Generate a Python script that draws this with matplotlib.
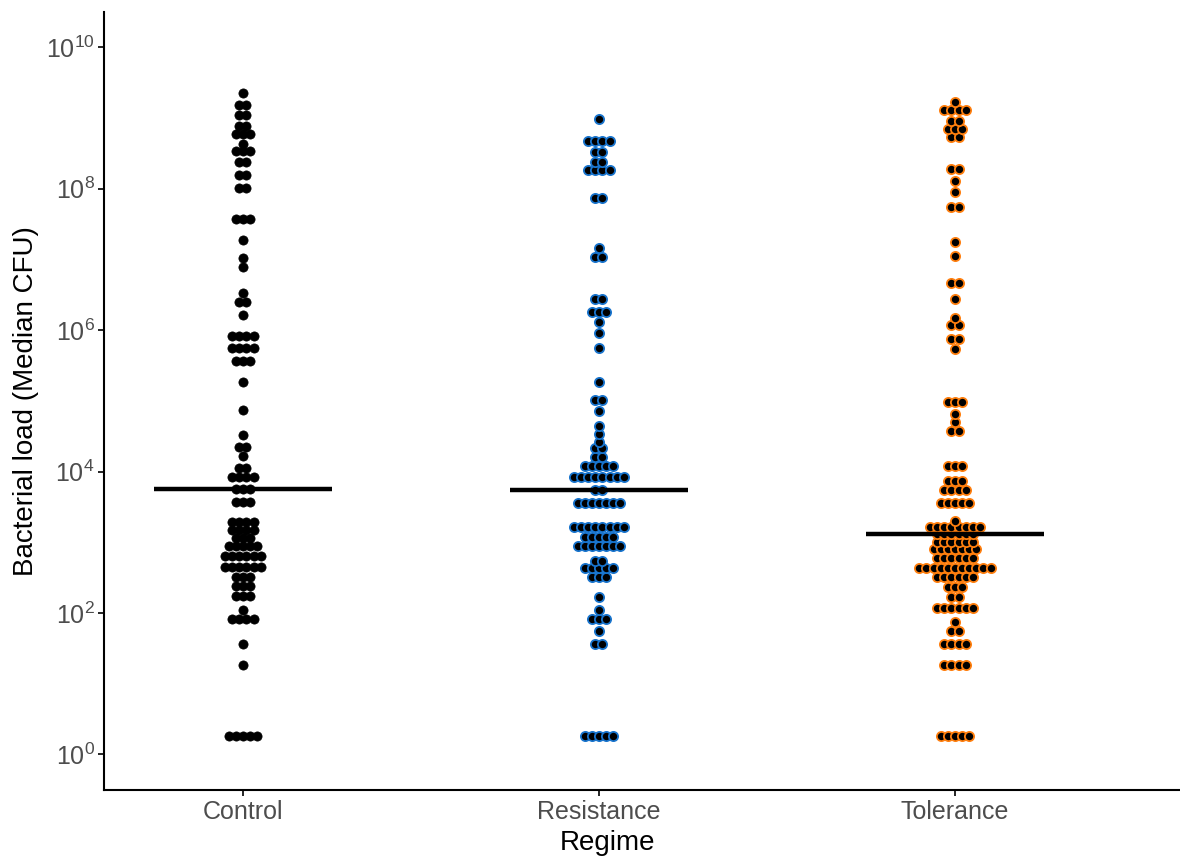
import numpy as np
import matplotlib.pyplot as plt

plt.rcParams['font.family'] = ['Liberation Sans', 'DejaVu Sans']

regimes = ["Control", "Resistance", "Tolerance"]

# log10 bin centres and number of dots stacked in each bin
control_log = [9.36, 9.18, 9.05, 8.89, 8.78, 8.63, 8.54, 8.38, 8.19, 8.01,
               7.57, 7.27, 7.02, 6.90, 6.53, 6.40, 6.22,
               5.92, 5.75, 5.57, 5.27, 4.87, 4.52, 4.35, 4.22, 4.05, 3.92,
               3.75, 3.57, 3.28, 3.17, 3.06, 2.94, 2.80, 2.65,
               2.51, 2.38, 2.24, 2.04, 1.91, 1.56, 1.26, 0.26]
control_n = [1, 2, 2, 2, 3, 1, 3, 2, 2, 2,
             3, 1, 1, 1, 1, 2, 1,
             4, 4, 3, 1, 1, 1, 2, 1, 2, 4,
             3, 3, 4, 4, 3, 5, 6, 6,
             3, 3, 3, 1, 4, 1, 1, 5]

resistance_log = [8.99, 8.67, 8.52, 8.38, 8.26, 7.87, 7.16, 7.04, 6.44, 6.25,
                  6.11, 5.96, 5.75, 5.27, 5.01, 4.85, 4.64, 4.53, 4.42, 4.33,
                  4.21, 4.08, 3.92, 3.74, 3.56, 3.22, 3.07, 2.94, 2.73, 2.63,
                  2.51, 2.22, 2.04, 1.91, 1.74, 1.56, 0.26]
resistance_n = [1, 4, 2, 2, 4, 2, 1, 2, 2, 3,
                1, 1, 1, 1, 2, 1, 1, 1, 1, 2,
                2, 5, 8, 2, 7, 8, 5, 7, 2, 5,
                3, 1, 1, 3, 1, 2, 5]

tolerance_log = [9.23, 9.12, 8.96, 8.85, 8.73, 8.28, 8.11, 7.96, 7.74, 7.25,
                 7.05, 6.66, 6.44, 6.17, 6.07, 5.88, 5.74, 4.99, 4.81, 4.70,
                 4.58, 4.08, 3.87, 3.74, 3.56, 3.30, 3.21, 3.12, 3.01, 2.90,
                 2.77, 2.63, 2.51, 2.37, 2.22, 2.07, 1.87, 1.74, 1.56, 1.26, 0.26]
tolerance_n = [1, 4, 2, 3, 2, 2, 1, 1, 2, 1,
               1, 2, 1, 1, 2, 2, 1, 3, 1, 1,
               2, 3, 3, 4, 5, 1, 8, 6, 6, 7,
               6, 11, 6, 3, 2, 6, 1, 2, 4, 4, 5]

groups = [
    (control_log, control_n, "black", "black"),
    (resistance_log, resistance_n, "black", "#1874cd"),
    (tolerance_log, tolerance_n, "black", "#ff7f0e"),
]

fig = plt.figure(figsize=(11.8, 8.59), dpi=100)
ax = fig.add_axes([0.0884, 0.0803, 0.9116, 0.9057])

step = 0.02  # horizontal spacing between stacked dots
for i, (logs, counts, face, edge) in enumerate(groups, start=1):
    values = np.repeat(10 ** np.array(logs), counts)
    xs, ys = [], []
    for v in np.unique(values):
        k = np.sum(values == v)
        offs = (np.arange(k) - (k - 1) / 2) * step
        xs.extend(i + offs)
        ys.extend([v] * k)
    ax.scatter(xs, ys, s=44, facecolor=face, edgecolor=edge,
               linewidth=1.3 if edge != "black" else 0.5, zorder=2)
    med = np.median(values)
    ax.plot([i - 0.25, i + 0.25], [med, med], color="black", lw=3.2,
            solid_capstyle="butt", zorder=3)

ax.set_yscale("log")
ax.set_ylim(10 ** -0.505, 10 ** 10.5)
ax.set_xlim(0.611, 3.632)
ax.set_yticks([10.0 ** k for k in range(0, 11, 2)])
ax.minorticks_off()
ax.set_xticks([1, 2, 3])
ax.set_xticklabels(regimes)

for side in ["top", "right"]:
    ax.spines[side].set_visible(False)
for side in ["left", "bottom"]:
    ax.spines[side].set_linewidth(1.5)
ax.tick_params(axis="both", length=4, width=1.2, color="black",
               labelsize=18, labelcolor="#4d4d4d", pad=3)

ax.set_xlabel("Regime", fontsize=20)
ax.xaxis.set_label_coords(0.468, -0.052)
ax.set_ylabel("Bacterial load (Median CFU)", fontsize=20, labelpad=5)

fig.savefig("out.png", dpi=100)
